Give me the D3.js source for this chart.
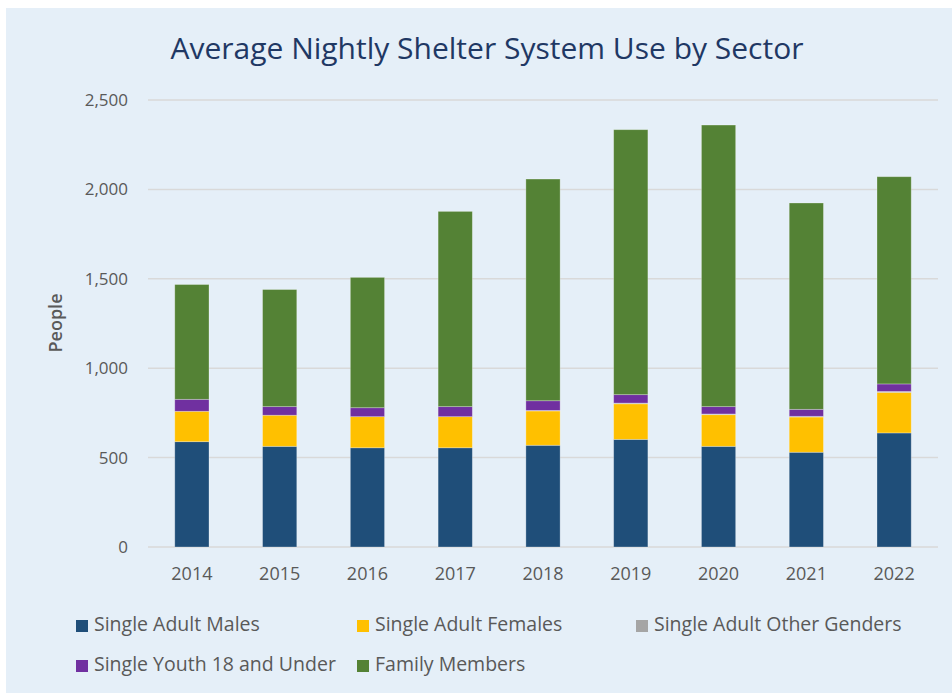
<!DOCTYPE html>
<html>
<head>
<meta charset="utf-8">
<script src="https://cdn.jsdelivr.net/npm/d3@7"></script>
<style>
  body { margin: 0; background: #fff; }
  svg { display: block; font-family: "Open Sans", "Noto Sans", sans-serif; }
</style>
</head>
<body>
<div id="chart"></div>
<script>
// data
var years = ["2014", "2015", "2016", "2017", "2018", "2019", "2020", "2021", "2022"];
var males = [589, 563, 555, 555, 569, 602, 563, 530, 638];
var females = [170, 174, 174, 174, 192, 199, 177, 197, 227];
var otherGenders = [0, 0, 0, 0, 3, 4, 4, 4, 5];
var youth = [67, 48, 50, 56, 54, 47, 41, 39, 42];
var family = [642, 655, 729, 1092, 1240, 1482, 1575, 1154, 1159];
var yTicks = [0, 500, 1000, 1500, 2000, 2500];

var seriesNames = ["Single Adult Males", "Single Adult Females", "Single Adult Other Genders",
                   "Single Youth 18 and Under", "Family Members"];
var seriesColors = ["#1f4e79", "#ffc000", "#a5a5a5", "#7030a0", "#548235"];

var width = 952, height = 693;
var margin = { top: 100, bottom: 146, left: 148, right: 14 };

var svg = d3.select("#chart").append("svg")
  .attr("width", width)
  .attr("height", height);

// panel background
svg.append("rect")
  .attr("x", 6).attr("y", 8)
  .attr("width", width - 6).attr("height", height - 8)
  .attr("fill", "#e5eff8");

svg.append("text")
  .attr("x", 487).attr("y", 59)
  .attr("text-anchor", "middle")
  .style("font-size", "30px")
  .style("fill", "#1f3864")
  .text("Average Nightly Shelter System Use by Sector");

// build table for the stack
var table = years.map(function(y, i) {
  return { year: y, s0: males[i], s1: females[i], s2: otherGenders[i], s3: youth[i], s4: family[i] };
});
var keys = ["s0", "s1", "s2", "s3", "s4"];
var stacked = d3.stack().keys(keys)(table);

var x = d3.scaleBand()
  .domain(years)
  .range([margin.left, width - margin.right])
  .paddingInner(0.61)
  .paddingOuter(0.305);

var y = d3.scaleLinear()
  .domain([0, 2500])
  .range([height - margin.bottom, margin.top]);

// gridlines
svg.append("g")
  .selectAll("line")
  .data(yTicks)
  .join("line")
  .attr("x1", margin.left).attr("x2", width - margin.right)
  .attr("y1", function(d) { return y(d); })
  .attr("y2", function(d) { return y(d); })
  .attr("stroke", "#d9d9d9")
  .attr("stroke-width", 1.5);

// y axis labels
var yAxis = d3.axisLeft(y).tickValues(yTicks).tickSize(0).tickPadding(20)
  .tickFormat(d3.format(","));
var gy = svg.append("g")
  .attr("transform", "translate(" + margin.left + ",0)")
  .call(yAxis);
gy.select(".domain").remove();
gy.selectAll("text").style("font-size", "17px").style("fill", "#595959")
  .style("font-family", "\"Open Sans\", sans-serif");

svg.append("text")
  .attr("transform", "translate(62," + 323 + ") rotate(-90)")
  .attr("text-anchor", "middle")
  .style("font-size", "18px")
  .style("font-weight", "600")
  .style("fill", "#595959")
  .text("People");

// x axis labels
var xAxis = d3.axisBottom(x).tickSize(0).tickPadding(20);
var gx = svg.append("g")
  .attr("transform", "translate(0," + y(0) + ")")
  .call(xAxis);
gx.select(".domain").remove();
gx.selectAll("text").style("font-size", "18px").style("fill", "#595959")
  .style("font-family", "\"Open Sans\", sans-serif");

// bars
svg.append("g")
  .selectAll("g")
  .data(stacked)
  .join("g")
  .attr("fill", function(d, i) { return seriesColors[i]; })
  .selectAll("rect")
  .data(function(d) { return d; })
  .join("rect")
  .attr("x", function(d) { return x(d.data.year); })
  .attr("width", x.bandwidth())
  .attr("y", function(d) { return y(d[1]); })
  .attr("height", function(d) { return y(d[0]) - y(d[1]); })
  .attr("stroke", "rgba(255,255,255,0.35)")
  .attr("stroke-width", 0.8);

// legend
var legendPos = [[76, 626], [357, 626], [636, 626], [76, 666], [357, 666]];
var legend = svg.append("g")
  .selectAll("g")
  .data(seriesNames)
  .join("g")
  .attr("transform", function(d, i) { return "translate(" + legendPos[i][0] + "," + legendPos[i][1] + ")"; });
legend.append("rect")
  .attr("x", 0).attr("y", -6)
  .attr("width", 12).attr("height", 12)
  .attr("fill", function(d, i) { return seriesColors[i]; });
legend.append("text")
  .attr("x", 18).attr("y", 0)
  .attr("dominant-baseline", "middle")
  .style("font-size", "19.5px")
  .style("fill", "#595959")
  .text(function(d) { return d; });
</script>
</body>
</html>
